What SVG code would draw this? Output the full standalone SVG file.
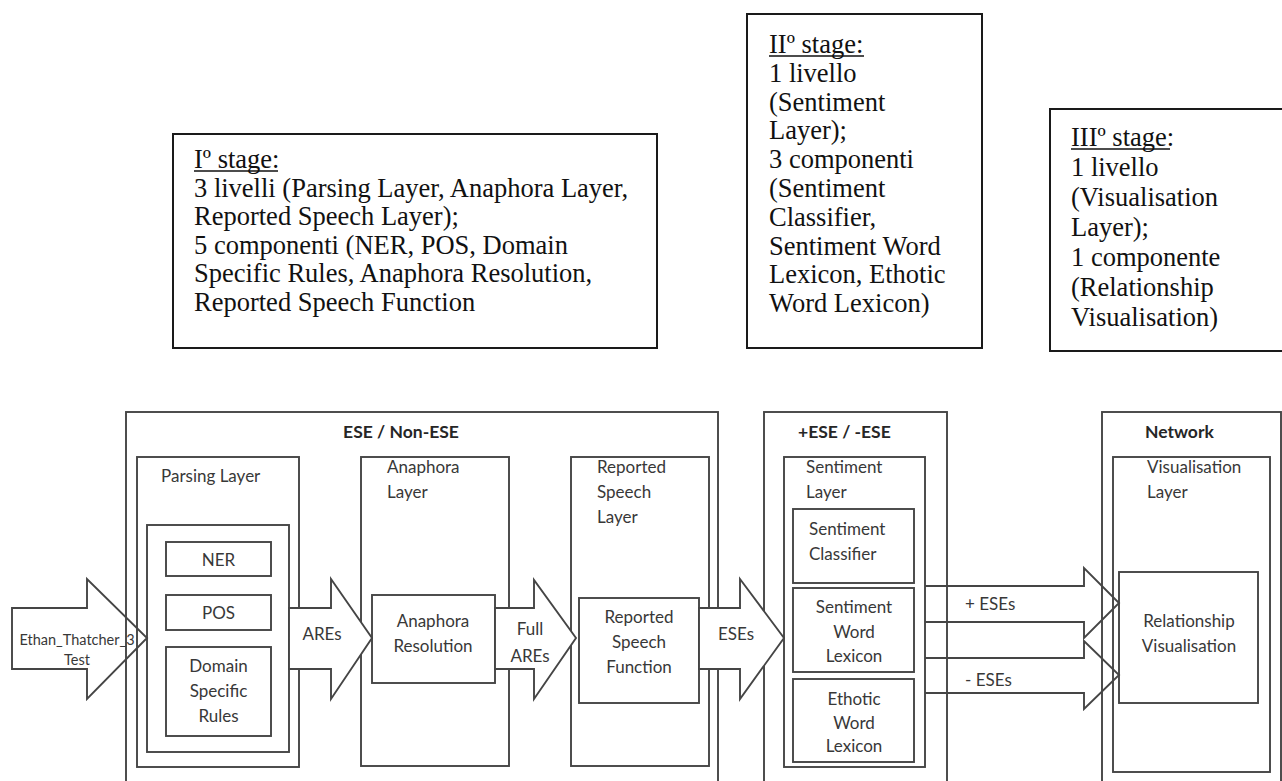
<svg xmlns="http://www.w3.org/2000/svg" width="1282" height="781" viewBox="0 0 1282 781">
<style>
.tb{fill:none;stroke:#1a1a1a;stroke-width:2}
.st{font-family:"Liberation Serif","Times New Roman",serif;font-size:26.5px;fill:#111}
.ul{stroke:#111;stroke-width:1.6}
.bx{fill:none;stroke:#454545;stroke-width:1.9}
.lb{font-family:Lato,"Open Sans",sans-serif;font-size:17px;fill:#383838}
.sm{font-size:14.5px}
.c{text-anchor:middle}
.ttl{font-weight:bold;font-size:17.5px;fill:#262626}
.ar{fill:#fff;stroke:#454545;stroke-width:1.9}
.arn{fill:none;stroke:#454545;stroke-width:1.9}
</style>
<rect width="1282" height="781" fill="#fff"/>

<g id="stage1">
<rect class="tb" x="173" y="134" width="484" height="214"/>
<text class="st" x="194" y="168">Iº stage:</text>
<line class="ul" x1="194" y1="171" x2="278" y2="171"/>
<text class="st" x="194" y="196.6">3 livelli (Parsing Layer, Anaphora Layer,</text>
<text class="st" x="194" y="225.2">Reported Speech Layer);</text>
<text class="st" x="194" y="253.8">5 componenti (NER, POS, Domain</text>
<text class="st" x="194" y="282.4">Specific Rules, Anaphora Resolution,</text>
<text class="st" x="194" y="311">Reported Speech Function</text>
</g>

<g id="stage2">
<rect class="tb" x="747" y="14" width="235" height="334"/>
<text class="st" x="769" y="53">IIº stage:</text>
<line class="ul" x1="769" y1="56" x2="864" y2="56"/>
<text class="st" x="769" y="81.8">1 livello</text>
<text class="st" x="769" y="110.6">(Sentiment</text>
<text class="st" x="769" y="139.4">Layer);</text>
<text class="st" x="769" y="168.2">3 componenti</text>
<text class="st" x="769" y="197">(Sentiment</text>
<text class="st" x="769" y="225.8">Classifier,</text>
<text class="st" x="769" y="254.6">Sentiment Word</text>
<text class="st" x="769" y="283.4">Lexicon, Ethotic</text>
<text class="st" x="769" y="312.2">Word Lexicon)</text>
</g>

<g id="stage3">
<rect class="tb" x="1050" y="109" width="240" height="242"/>
<text class="st" x="1071" y="146">IIIº stage:</text>
<line class="ul" x1="1071" y1="149" x2="1170" y2="149"/>
<text class="st" x="1071" y="176">1 livello</text>
<text class="st" x="1071" y="206">(Visualisation</text>
<text class="st" x="1071" y="236">Layer);</text>
<text class="st" x="1071" y="266">1 componente</text>
<text class="st" x="1071" y="296">(Relationship</text>
<text class="st" x="1071" y="326">Visualisation)</text>
</g>

<g id="ese-nonese">
<rect class="bx" x="126" y="412" width="592" height="400"/>
<text class="lb ttl c" x="401" y="438">ESE / Non-ESE</text>
</g>

<g id="parsing-layer">
<rect class="bx" x="137" y="457" width="162" height="310"/>
<text class="lb" x="161" y="482">Parsing Layer</text>
<rect class="bx" x="147" y="525" width="142" height="227"/>
</g>
<g id="ner">
<rect class="bx" x="166" y="542" width="105" height="34"/>
<text class="lb c" x="218.5" y="566">NER</text>
</g>
<g id="pos">
<rect class="bx" x="166" y="595" width="105" height="35"/>
<text class="lb c" x="218.5" y="619">POS</text>
</g>
<g id="domain-rules">
<rect class="bx" x="166" y="647" width="105" height="89"/>
<text class="lb c" x="218.5" y="672">Domain</text>
<text class="lb c" x="218.5" y="697">Specific</text>
<text class="lb c" x="218.5" y="722">Rules</text>
</g>

<g id="anaphora-layer">
<rect class="bx" x="361" y="457" width="148" height="309"/>
<text class="lb" x="387" y="473">Anaphora</text>
<text class="lb" x="387" y="498">Layer</text>
</g>
<g id="anaphora-resolution">
<rect class="bx" x="372" y="595" width="123" height="88"/>
<text class="lb c" x="433" y="627">Anaphora</text>
<text class="lb c" x="433" y="652">Resolution</text>
</g>

<g id="reported-speech-layer">
<rect class="bx" x="571" y="457" width="138" height="309"/>
<text class="lb" x="597" y="473">Reported</text>
<text class="lb" x="597" y="498">Speech</text>
<text class="lb" x="597" y="523">Layer</text>
</g>
<g id="reported-speech-function">
<rect class="bx" x="579" y="598" width="120" height="105"/>
<text class="lb c" x="639" y="623">Reported</text>
<text class="lb c" x="639" y="648">Speech</text>
<text class="lb c" x="639" y="673">Function</text>
</g>

<g id="pos-neg-ese">
<rect class="bx" x="764" y="412" width="183" height="400"/>
<text class="lb ttl" x="798" y="438">+ESE / -ESE</text>
</g>
<g id="sentiment-layer">
<rect class="bx" x="784" y="457" width="141" height="310"/>
<text class="lb" x="806" y="473">Sentiment</text>
<text class="lb" x="806" y="498">Layer</text>
</g>
<g id="sentiment-classifier">
<rect class="bx" x="793" y="509" width="121" height="74"/>
<text class="lb" x="809" y="535">Sentiment</text>
<text class="lb" x="809" y="560">Classifier</text>
</g>
<g id="sentiment-word-lexicon">
<rect class="bx" x="793" y="588" width="121" height="84"/>
<text class="lb c" x="854" y="613">Sentiment</text>
<text class="lb c" x="854" y="638">Word</text>
<text class="lb c" x="854" y="662">Lexicon</text>
</g>
<g id="ethotic-word-lexicon">
<rect class="bx" x="793" y="679" width="121" height="83"/>
<text class="lb c" x="854" y="705">Ethotic</text>
<text class="lb c" x="854" y="729">Word</text>
<text class="lb c" x="854" y="752">Lexicon</text>
</g>

<g id="network">
<rect class="bx" x="1102" y="412" width="179" height="400"/>
<text class="lb ttl" x="1145" y="438">Network</text>
</g>
<g id="visualisation-layer">
<rect class="bx" x="1113" y="457" width="157" height="315"/>
<text class="lb" x="1147" y="473">Visualisation</text>
<text class="lb" x="1147" y="498">Layer</text>
</g>
<g id="relationship-visualisation">
<rect class="bx" x="1119" y="572" width="139" height="131"/>
<text class="lb c" x="1189" y="627">Relationship</text>
<text class="lb c" x="1189" y="652">Visualisation</text>
</g>

<g id="connectors">
<path class="arn" d="M12,608 H87 V579 L147,638 L87,699 V669 H12 Z"/>
<text class="lb sm c" x="77" y="645">Ethan_Thatcher_3</text>
<text class="lb sm c" x="77" y="665">Test</text>
<path class="ar" d="M289,608 H331 V579 L372,638 L331,699 V669 H289 Z"/>
<text class="lb c" x="322" y="640">AREs</text>
<path class="ar" d="M495,608 H534 V580 L576,638 L534,699 V669 H495 Z"/>
<text class="lb c" x="530" y="635">Full</text>
<text class="lb c" x="530" y="662">AREs</text>
<path class="ar" d="M699,608 H740 V579 L784,638 L740,699 V669 H699 Z"/>
<text class="lb c" x="736" y="640">ESEs</text>
<path class="arn" d="M925,586 H1084 V568 L1119,603 L1084,638 V622 H925"/>
<text class="lb" x="965" y="610">+ ESEs</text>
<path class="arn" d="M925,658 H1084 V641 L1119,675 L1084,709 V693 H925"/>
<text class="lb" x="965" y="686">- ESEs</text>
</g>
</svg>
